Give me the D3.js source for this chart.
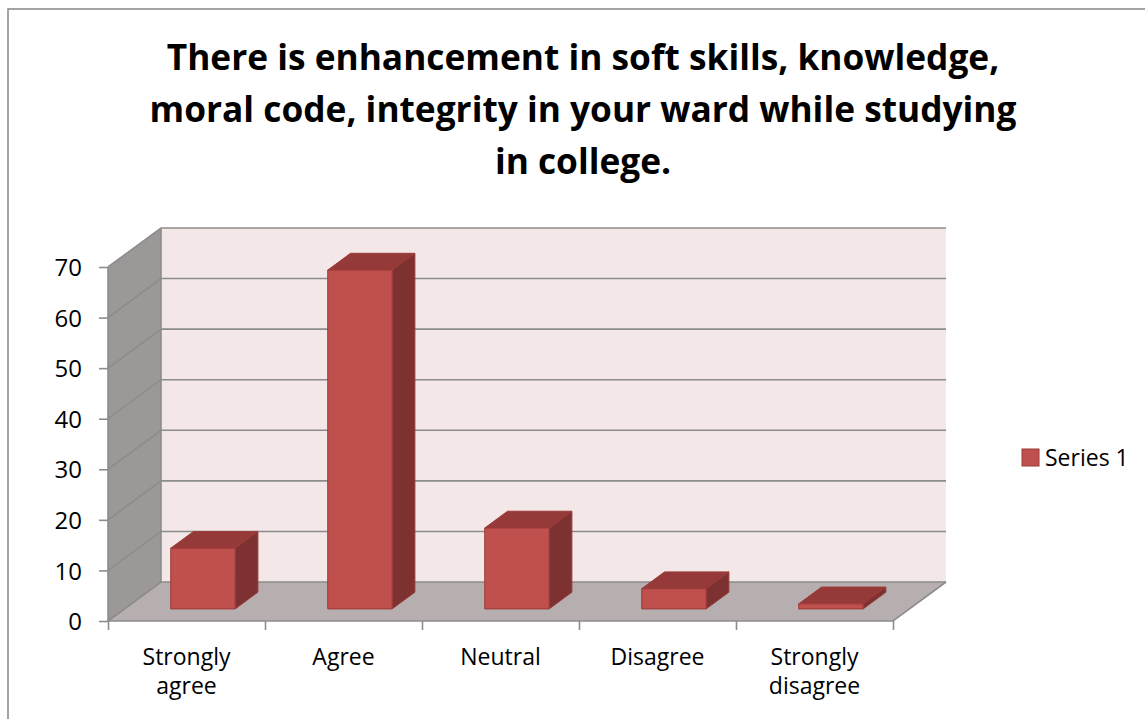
<!DOCTYPE html>
<html>
<head>
<meta charset="utf-8">
<script src="https://cdn.jsdelivr.net/npm/d3@7"></script>
<style>
  body { margin: 0; background: #fff; }
  text { font-family: "Open Sans", "Liberation Sans", sans-serif; fill: #000; }
</style>
</head>
<body>
<script>
const width = 1145;
const height = 719;

const titleLines = ["There is enhancement in soft skills, knowledge,",
                    "moral code, integrity in your ward while studying",
                    "in college."];
const categories = ["Strongly agree", "Agree", "Neutral", "Disagree", "Strongly disagree"];
const categoryLines = [["Strongly", "agree"], ["Agree"], ["Neutral"], ["Disagree"], ["Strongly", "disagree"]];
const values = [12, 67, 16, 4, 1];
const yTicks = [0, 10, 20, 30, 40, 50, 60, 70];
const seriesName = "Series 1";

// oblique depth of the plot box
const depthX = 53, depthY = -39;
const barZ0 = 0.31, barZ1 = 0.74;

const svg = d3.select("body").append("svg")
    .attr("width", width)
    .attr("height", height);

// outer frame
svg.append("rect")
    .attr("x", 8).attr("y", 9)
    .attr("width", width + 10).attr("height", height + 10)
    .attr("fill", "none").attr("stroke", "#878787").attr("stroke-width", 1.5);

const x = d3.scaleBand()
    .domain(categories)
    .range([108, 893])
    .paddingInner(0.59)
    .paddingOuter(0.295);

const xEdge = d3.scaleLinear().domain([0, categories.length]).range([108, 893]);

const y = d3.scaleLinear().domain([0, 70]).range([621, 267]);

const P = (px, py, z) => [px + z * depthX, py + z * depthY];
const poly = pts => "M" + pts.map(p => p.join(",")).join("L") + "Z";

const x0 = xEdge.range()[0], x1 = xEdge.range()[1];
const yTop = y(70), yBase = y(0);

// walls
svg.append("path")
    .attr("d", poly([P(x0, yTop, 1), P(x1, yTop, 1), P(x1, yBase, 1), P(x0, yBase, 1)]))
    .attr("fill", "#F3E7E7");
svg.append("path")
    .attr("d", poly([P(x0, yTop, 0), P(x0, yTop, 1), P(x0, yBase, 1), P(x0, yBase, 0)]))
    .attr("fill", "#9D9898");
svg.append("path")
    .attr("d", poly([P(x0, yBase, 0), P(x0, yBase, 1), P(x1, yBase, 1), P(x1, yBase, 0)]))
    .attr("fill", "#B7AFAF");

// gridlines on back and side walls
const grid = svg.append("g")
    .attr("stroke", "#8C8C8C").attr("stroke-width", 1.6).attr("fill", "none");
yTicks.forEach(v => {
  grid.append("path").attr("d", "M" + P(x0, y(v), 0) + "L" + P(x0, y(v), 1) + "L" + P(x1, y(v), 1));
});
grid.append("path").attr("d", "M" + P(x0, yTop, 0) + "L" + P(x0, yBase, 0));
grid.append("path").attr("d", "M" + P(x0, yTop, 1) + "L" + P(x0, yBase, 1));
grid.append("path").attr("d", "M" + P(x0, yBase, 0) + "L" + P(x1, yBase, 0) + "L" + P(x1, yBase, 1));

// bars
const bars = svg.append("g").selectAll("g")
    .data(categories.map((c, i) => ({c, v: values[i]})))
    .join("g")
    .attr("stroke", "#9A3A38").attr("stroke-width", 1).attr("stroke-linejoin", "round");

bars.append("path")
    .attr("fill", "#953A38")
    .attr("d", d => {
      const l = x(d.c), r = x(d.c) + x.bandwidth(), t = y(d.v);
      return poly([P(l, t, barZ0), P(l, t, barZ1), P(r, t, barZ1), P(r, t, barZ0)]);
    });
bars.append("path")
    .attr("fill", "#7E3131")
    .attr("d", d => {
      const r = x(d.c) + x.bandwidth(), t = y(d.v);
      return poly([P(r, t, barZ0), P(r, t, barZ1), P(r, yBase, barZ1), P(r, yBase, barZ0)]);
    });
bars.append("path")
    .attr("fill", "#C0504D")
    .attr("d", d => {
      const l = x(d.c), r = x(d.c) + x.bandwidth(), t = y(d.v);
      return poly([P(l, t, barZ0), P(r, t, barZ0), P(r, yBase, barZ0), P(l, yBase, barZ0)]);
    });

// y axis
const yAxis = svg.append("g")
    .attr("transform", `translate(${x0},0)`)
    .call(d3.axisLeft(y).tickValues(yTicks).tickSize(9).tickSizeOuter(0).tickPadding(17));
yAxis.select(".domain").remove();
yAxis.selectAll(".tick line").attr("stroke", "#8C8C8C").attr("stroke-width", 1.6);
yAxis.selectAll(".tick text").attr("font-size", 24).attr("dy", "0.36em");

// x axis
const xAxis = svg.append("g")
    .attr("transform", `translate(0,${yBase})`)
    .call(d3.axisBottom(xEdge).tickValues(d3.range(categories.length + 1)).tickFormat("").tickSize(9).tickSizeOuter(0));
xAxis.select(".domain").remove();
xAxis.selectAll(".tick line").attr("stroke", "#8C8C8C").attr("stroke-width", 1.6);

svg.append("g").selectAll("text")
    .data(categories.map((c, i) => ({c, lines: categoryLines[i]})))
    .join("text")
    .attr("x", d => x(d.c) + x.bandwidth() / 2)
    .attr("y", 665)
    .attr("text-anchor", "middle")
    .attr("font-size", 23)
    .selectAll("tspan")
    .data(d => d.lines)
    .join("tspan")
    .attr("x", function () { return this.parentNode.getAttribute("x"); })
    .attr("dy", (d, i) => i ? 29 : 0)
    .text(d => d);

// title
const title = svg.append("text")
    .attr("text-anchor", "middle")
    .attr("font-weight", "bold")
    .attr("font-size", 35);
title.selectAll("tspan")
    .data(titleLines)
    .join("tspan")
    .attr("x", 583)
    .attr("y", (d, i) => 70 + i * 52)
    .text(d => d);
// fit the first line to the reference width
const firstLen = title.select("tspan").node().getComputedTextLength();
title.attr("font-size", 35 * 833 / firstLen);

// legend
const legend = svg.append("g").attr("transform", "translate(1022,449)");
legend.append("rect")
    .attr("width", 17).attr("height", 17)
    .attr("fill", "#C0504D").attr("stroke", "#9A3A38");
legend.append("text")
    .attr("x", 23).attr("y", 17)
    .attr("font-size", 23)
    .text(seriesName);
</script>
</body>
</html>
